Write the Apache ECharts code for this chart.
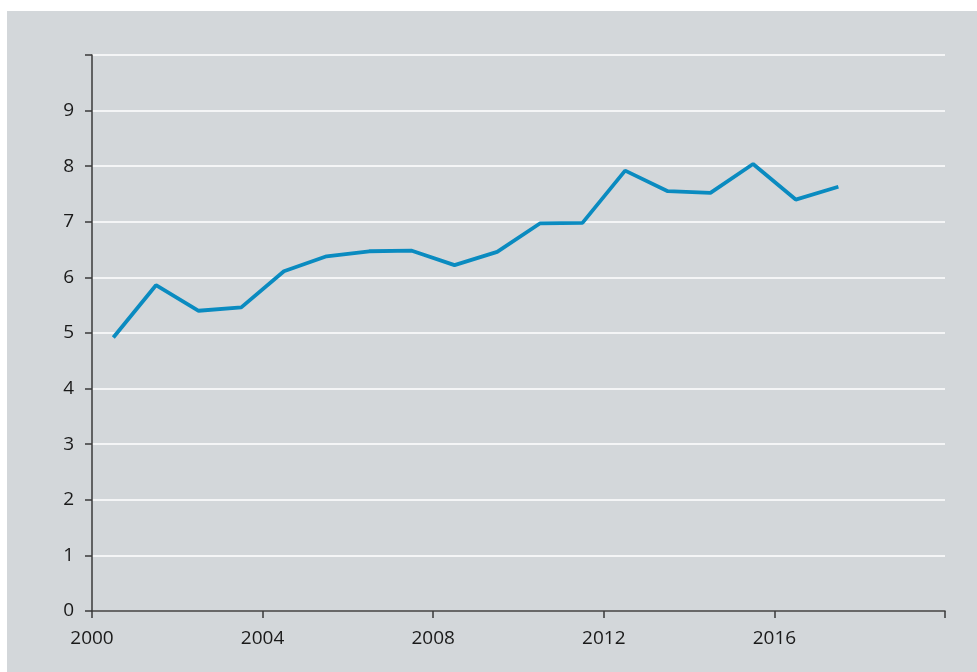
<!DOCTYPE html>
<html><head><meta charset="utf-8">
<script src="https://cdn.jsdelivr.net/npm/echarts@6/dist/echarts.min.js"></script>
<style>html,body{margin:0;padding:0;background:#fff}#c{width:977px;height:672px}</style>
</head><body><div id="c"></div>
<script>
const years = [2000.5,2001.5,2002.5,2003.5,2004.5,2005.5,2006.5,2007.5,2008.5,2009.5,2010.5,2011.5,2012.5,2013.5,2014.5,2015.5,2016.5,2017.5];
const values = [4.92,5.86,5.4,5.46,6.11,6.38,6.47,6.48,6.22,6.46,6.97,6.98,7.92,7.55,7.52,8.04,7.4,7.63];
const chart = echarts.init(document.getElementById('c'));
const font = '"Open Sans", "Noto Sans", sans-serif';
chart.setOption({
  animation: false,
  graphic: [{type:'rect', z:-10, silent:true, shape:{x:7,y:11,width:970,height:661}, style:{fill:'#d3d7da'}}],
  grid: {left:92, right:32, top:55, bottom:61, containLabel:false},
  xAxis: {
    type:'value', min:2000, max:2020, interval:4,
    axisLine:{show:true, lineStyle:{color:'#3a3a3a', width:1.5}},
    axisTick:{show:true, length:7, lineStyle:{color:'#3a3a3a', width:1.5}},
    splitLine:{show:false},
    axisLabel:{color:'#1a1a1a', fontSize:19, fontFamily:font, margin:18,
      formatter: v => v === 2020 ? '' : String(v)}
  },
  yAxis: {
    type:'value', min:0, max:10, interval:1,
    axisLine:{show:true, lineStyle:{color:'#3a3a3a', width:1.5}},
    axisTick:{show:true, length:7, lineStyle:{color:'#3a3a3a', width:1.5}},
    splitLine:{show:true, lineStyle:{color:'#ffffff', width:1.5}},
    axisLabel:{color:'#1a1a1a', fontSize:19, fontFamily:font, margin:18,
      formatter: v => v === 10 ? '' : String(v)}
  },
  series: [{
    type:'line', data: years.map((y,i)=>[y, values[i]]),
    showSymbol:false, lineStyle:{color:'#0a8bc0', width:3.8}
  }]
});
</script></body></html>
